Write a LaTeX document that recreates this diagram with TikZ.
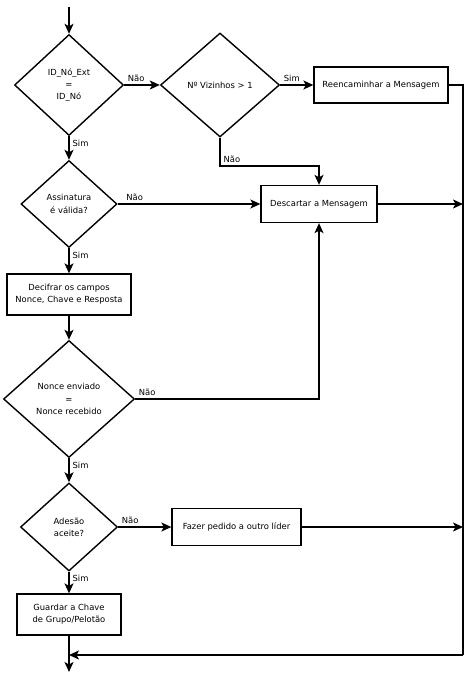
\documentclass[tikz,border=0pt]{standalone}
\usepackage{fontspec}
\setmainfont{DejaVu Sans}
\usetikzlibrary{shapes.geometric,arrows.meta}
\tikzset{
  decision/.style = {diamond, draw, line width=1.4pt, inner sep=0pt,
                     align=center, font=\fontsize{8.4}{12.3}\selectfont},
  proc/.style = {rectangle, draw, line width=1.3pt, inner sep=0pt,
                 align=center, font=\fontsize{8.4}{12.3}\selectfont},
  flow/.style = {line width=1.3pt, -{Stealth[length=10pt,width=9pt,inset=2.5pt]}},
  lbl/.style = {font=\fontsize{8.4}{10}\selectfont, inner sep=3pt}
}

\begin{document}
\begin{tikzpicture}[x=1pt,y=-1pt]
	\def \cx{69}   % main column
	\def \rx{463}  % right rail
	
	\useasboundingbox (0,0) rectangle (468,674);
	
	% Decisions and steps
	\node[decision, minimum width=109pt, minimum height=101pt] (idno) at (\cx,85) {ID\_Nó\_Ext\\=\\ID\_Nó};
	\node[decision, minimum width=119pt, minimum height=104pt] (viz) at (220,85) {Nº Vizinhos > 1};
	\node[proc, minimum width=134pt, minimum height=36pt] (reenc) at (381,85) {Reencaminhar a Mensagem};
	\node[decision, minimum width=96pt, minimum height=87pt] (assin) at (\cx,204) {Assinatura\\é válida?};
	\node[proc, minimum width=116pt, minimum height=37pt] (descart) at (319,204) {Descartar a Mensagem};
	\node[proc, minimum width=124pt, minimum height=41pt] (decif) at (\cx,294.5) {Decifrar os campos\\Nonce, Chave e Resposta};
	\node[decision, minimum width=131pt, minimum height=117pt] (nonce) at (\cx,399) {Nonce enviado\\=\\Nonce recebido};
	\node[decision, minimum width=97pt, minimum height=88pt] (ades) at (\cx,527) {Adesão\\aceite?};
	\node[proc, minimum width=129pt, minimum height=37pt] (fazer) at (236.5,527) {Fazer pedido a outro líder};
	\node[proc, minimum width=104pt, minimum height=41pt] (guard) at (\cx,614.5) {Guardar a Chave\\de Grupo/Pelotão};
	
	% Free ends
	\coordinate (in) at (\cx,7);
	\coordinate (out) at (\cx,672);
	\coordinate (rail) at (\rx,655);
	\coordinate (knee) at (0,166);
	
	% Main column
	\draw[flow] (in) -- (idno.north);
	\draw[flow] (idno.south) -- node[lbl, pos=0, anchor=north west]{Sim} (assin.north);
	\draw[flow] (assin.south) -- node[lbl, pos=0, anchor=north west]{Sim} (decif.north);
	\draw[flow] (decif.south) -- (nonce.north);
	\draw[flow] (nonce.south) -- node[lbl, pos=0, anchor=north west]{Sim} (ades.north);
	\draw[flow] (ades.south) -- node[lbl, pos=0, anchor=north west]{Sim} (guard.north);
	\draw[flow] (guard.south) -- (out);
	
	% Branches
	\draw[flow] (idno.east) -- node[lbl, pos=0, anchor=south west]{Não} (viz.west);
	\draw[flow] (viz.east) -- node[lbl, pos=0, anchor=south west]{Sim} (reenc.west);
	\draw[flow] (viz.south) |- node[lbl, pos=0.5, anchor=south west]{Não} (descart.north |- knee) -- (descart.north);
	\draw[flow] (assin.east) -- node[lbl, pos=0, anchor=south west, xshift=5pt]{Não} (descart.west);
	\draw[flow] (nonce.east) -| node[lbl, pos=0, anchor=south west]{Não} (descart.south);
	\draw[flow] (ades.east) -- node[lbl, pos=0, anchor=south west]{Não} (fazer.west);
	
	% Right rail
	\draw[line width=1.3pt] (reenc.east) -| (rail);
	\draw[flow] (descart.east) -- (descart.east -| rail);
	\draw[flow] (fazer.east) -- (fazer.east -| rail);
	\draw[flow] (rail) -- (rail -| out);
	
\end{tikzpicture}
\end{document}
